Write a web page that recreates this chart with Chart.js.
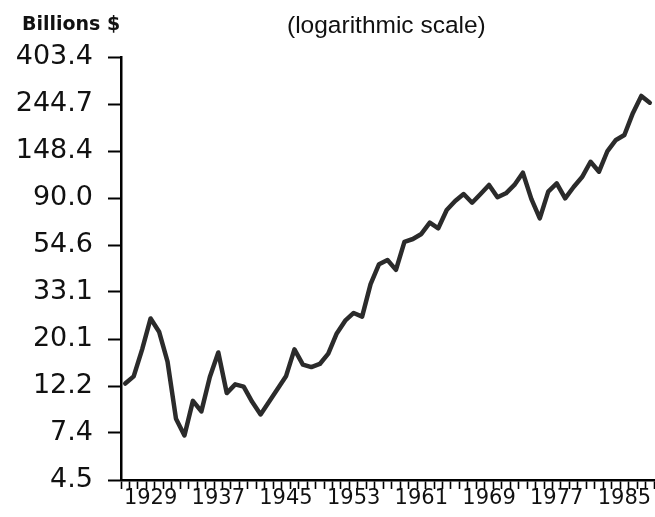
<!DOCTYPE html>
<html>
<head>
<meta charset="utf-8">
<script src="https://cdn.jsdelivr.net/npm/chart.js@4/dist/chart.umd.min.js"></script>
<style>
  html, body { margin: 0; padding: 0; background: #fff; }
  #wrap { position: relative; width: 655px; height: 517px; }
  #c { position: absolute; left: 0; top: 0; }
  .lbl { position: absolute; white-space: nowrap; line-height: 1; color: #111; }
  #unit { left: 22px; top: 12px; font: bold 19px "DejaVu Sans", sans-serif; }
  #note { left: 287px; top: 11px; font: 24.5px "Liberation Sans", Arial, sans-serif; }
</style>
</head>
<body>
<div id="wrap">
  <canvas id="c" width="655" height="517"></canvas>
  <div class="lbl" id="unit">Billions $</div>
  <div class="lbl" id="note">(logarithmic scale)</div>
</div>
<script>
// ---- data ----
const years = [
  '1926','1927','1928','1929','1930','1931','1932','1933','1934','1935',
  '1936','1937','1938','1939','1940','1941','1942','1943','1944','1945',
  '1946','1947','1948','1949','1950','1951','1952','1953','1954','1955',
  '1956','1957','1958','1959','1960','1961','1962','1963','1964','1965',
  '1966','1967','1968','1969','1970','1971','1972','1973','1974','1975',
  '1976','1977','1978','1979','1980','1981','1982','1983','1984','1985',
  '1986','1987','1988'
];
const values = [
  12.5, 13.5, 18.0, 25.0, 21.7, 15.8, 8.6, 7.2, 10.4, 9.3,
  13.4, 17.4, 11.3, 12.4, 12.1, 10.3, 9.0, 10.3, 11.8, 13.5,
  18.0, 15.3, 14.9, 15.4, 17.2, 21.3, 24.4, 26.5, 25.5, 36.0,
  44.5, 46.5, 41.9, 56.5, 58.2, 61.4, 69.2, 65.2, 79.2, 87.2,
  93.9, 85.6, 93.9, 103.4, 90.7, 94.6, 103.4, 117.8, 89.2, 72.5,
  96.3, 105.2, 89.7, 101.2, 112.5, 132.4, 119.1, 148.4, 166.9, 175.9,
  222.0, 266.6, 248.0
];
const xTickLabels = ['1929','1937','1945','1953','1961','1969','1977','1985'];
const yTickValues = [4.4817, 7.3891, 12.1825, 20.0855, 33.1155, 54.5982, 90.0171, 148.4132, 244.6919, 403.4288];
const yTickLabels = ['4.5','7.4','12.2','20.1','33.1','54.6','90.0','148.4','244.7','403.4'];

new Chart(document.getElementById('c'), {
  type: 'line',
  data: {
    labels: years,
    datasets: [{
      data: values,
      borderColor: '#2b2b2b',
      borderWidth: 4.5,
      pointRadius: 0,
      tension: 0,
      borderJoinStyle: 'round',
      borderCapStyle: 'round',
      fill: false
    }]
  },
  options: {
    responsive: false,
    animation: false,
    events: [],
    layout: { padding: { left: 0, right: 1, top: 57, bottom: 0 } },
    plugins: { legend: { display: false }, tooltip: { enabled: false }, title: { display: false } },
    scales: {
      x: {
        type: 'category',
        offset: true,
        border: { display: true, color: '#000', width: 2.5 },
        grid: {
          offset: true,
          drawOnChartArea: false,
          drawTicks: true,
          tickLength: 9,
          tickColor: '#000',
          tickWidth: 1.6
        },
        ticks: {
          autoSkip: false,
          maxRotation: 0,
          minRotation: 0,
          padding: -1,
          color: '#111',
          font: { family: 'DejaVu Sans', size: 21, lineHeight: 1 },
          callback: function (val, idx) {
            const l = years[idx];
            return xTickLabels.includes(l) ? l : '';
          }
        },
        afterFit: function (scale) { scale.height = 37; }
      },
      y: {
        type: 'logarithmic',
        min: yTickValues[0],
        max: yTickValues[yTickValues.length - 1],
        border: { display: true, color: '#000', width: 2.5 },
        grid: {
          drawOnChartArea: false,
          drawTicks: true,
          tickLength: 13,
          tickColor: '#000',
          tickWidth: 2
        },
        afterBuildTicks: function (scale) {
          scale.ticks = yTickValues.map(v => ({ value: v }));
        },
        ticks: {
          autoSkip: false,
          padding: 15,
          color: '#111',
          font: { family: 'DejaVu Sans', size: 27 },
          callback: function (val, idx) { return yTickLabels[idx]; }
        },
        afterFit: function (scale) { scale.width = 121; }
      }
    }
  }
});
</script>
</body>
</html>
